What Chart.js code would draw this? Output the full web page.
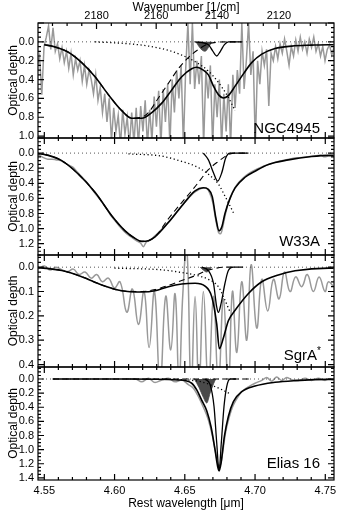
<!DOCTYPE html>
<html>
<head>
<meta charset="utf-8">
<script src="https://cdn.jsdelivr.net/npm/chart.js@4"></script>
<style>
  html, body { margin: 0; padding: 0; background: #fff; }
</style>
</head>
<body>
<canvas id="myChart" width="346" height="511"></canvas>
<script>
// axis ticks
let waveTicks = [4.55, 4.60, 4.65, 4.70, 4.75];
let waveNumberTicks = [2180, 2160, 2140, 2120];
let ngcTicks = [0, 0.2, 0.4, 0.6, 0.8, 1.0];
let w33Ticks = [0, 0.2, 0.4, 0.6, 0.8, 1.0, 1.2];
let sgrTicks = [0, 0.1, 0.2, 0.3, 0.4];
let eliasTicks = [0, 0.2, 0.4, 0.6, 0.8, 1.0, 1.2, 1.4];
let panelNames = ['NGC4945', 'W33A', 'SgrA', 'Elias 16'];

// NGC4945
let ngcObsStart = 4.5434, ngcObsStep = 0.0016;
let ngcObs = [
  0.10, 0.25, 0.15, 0.56, 0.05, -0.05, -0.17, 0.08, -0.15, 0.10,
  0.02, 0.18, 0.06, 0.22, 0.10, 0.28, 0.12, 0.35, 0.18, 0.30,
  0.20, 0.42, 0.25, 0.45, 0.30, 0.40, 0.55, 0.35, 0.62, 0.48,
  0.75, 0.55, 0.85, 0.60, 1.05, 0.70, 0.95, 0.78, 1.10, 0.72,
  0.98, 0.80, 1.10, 0.75, 1.08, 0.70, 1.10, 0.68, 0.95, 0.62,
  1.10, 0.72, 1.05, 0.58, 0.90, 0.52, 1.10, 0.50, 0.85, 0.45,
  1.10, 0.40, 0.75, 0.30, 0.60, 0.25, 1.10, 0.30, -0.20, 0.45,
  -0.20, 0.50, 0.20, 0.45, 0.15, 1.10, 0.30, 0.60, 0.25, 1.10,
  0.45, 0.80, 0.40, 1.10, 0.55, 0.95, 0.45, 1.10, 0.35, 0.70,
  0.30, 0.55, -0.20, 0.50, 0.20, -0.20, 0.35, 0.10, 1.10, 0.20,
  0.45, 0.10, 0.25, 0.08, 0.68, 0.12, 0.20, 0.05, 0.18, 0.02,
  0.12, -0.03, 0.10, 0.25, 0.05, 0.15, -0.02, 0.10, -0.05, 0.08,
  0.00, 0.12, -0.03, 0.06, -0.05, 0.10, 0.02, 0.15, 0.05, 0.20,
  0.08, 0.03, 0.14, 0.06
];
let ngcFitWave = [4.5500, 4.5577, 4.5671, 4.5766, 4.5861, 4.5956, 4.6051, 4.6122, 4.6193, 4.6265, 4.6336, 4.6407, 4.6478, 4.6549, 4.6585, 4.6632, 4.6668, 4.6704, 4.6739, 4.6775, 4.6810, 4.6858, 4.6917, 4.6976, 4.7048, 4.7142, 4.7261, 4.7403, 4.7522, 4.7560];
let ngcFitTau  = [0.03, 0.055, 0.11, 0.22, 0.37, 0.56, 0.73, 0.81, 0.81, 0.75, 0.65, 0.51, 0.37, 0.285, 0.27, 0.30, 0.35, 0.47, 0.56, 0.595, 0.57, 0.47, 0.34, 0.22, 0.13, 0.07, 0.045, 0.035, 0.03, 0.03];
let ngcBroadWave = [4.5500, 4.5577, 4.5671, 4.5766, 4.5861, 4.5956, 4.6051, 4.6122, 4.6193, 4.6241, 4.6312, 4.6383, 4.6454, 4.6526, 4.6597, 4.6668, 4.6739, 4.6810, 4.6905];
let ngcBroadTau  = [0.03, 0.055, 0.11, 0.22, 0.37, 0.56, 0.73, 0.81, 0.80, 0.75, 0.595, 0.44, 0.285, 0.165, 0.08, 0.02, 0.003, 0, 0];
let ngcWingWave = [4.5861, 4.6099, 4.6241, 4.6383, 4.6478, 4.6573, 4.6668, 4.6739, 4.6810, 4.6858];
let ngcWingTau  = [0, 0.02, 0.045, 0.09, 0.14, 0.21, 0.31, 0.43, 0.59, 0.73];
let ngcNarrowWave = [4.6573, 4.6668, 4.6696, 4.6727, 4.6753, 4.6782, 4.6810, 4.6905];
let ngcNarrowTau  = [0, 0.03, 0.09, 0.15, 0.10, 0.03, 0, 0];
let ngcShadeWave = [4.6580, 4.6601, 4.6625, 4.6644, 4.6668, 4.6692];
let ngcShadeTau  = [0, 0.05, 0.09, 0.10, 0.06, 0];

// W33A
let w33ObsWave = [4.5427, 4.5465, 4.5495, 4.5525, 4.5555, 4.5585, 4.5615, 4.5645, 4.5675, 4.5705, 4.5735, 4.5765, 4.5795, 4.5825, 4.5855, 4.5885, 4.5915, 4.5945, 4.5975, 4.6005, 4.6035, 4.6065, 4.6095, 4.6125, 4.6155, 4.6185, 4.6205, 4.6225, 4.6255, 4.6285, 4.6315, 4.6345, 4.6375, 4.6405, 4.6435, 4.6465, 4.6495, 4.6525, 4.6555, 4.6585, 4.6615, 4.6645, 4.6675, 4.6700, 4.6720, 4.6740, 4.6755, 4.6770, 4.6790, 4.6815, 4.6845, 4.6875, 4.6915, 4.6965, 4.7015, 4.7065, 4.7115, 4.7165, 4.7215, 4.7265, 4.7315, 4.7365, 4.7415, 4.7465, 4.7495, 4.7522, 4.7560];
let w33ObsTau  = [0.01, 0.03, 0.06, 0.08, 0.08, 0.09, 0.10, 0.13, 0.16, 0.19, 0.25, 0.31, 0.37, 0.44, 0.52, 0.59, 0.66, 0.74, 0.83, 0.90, 0.97, 1.03, 1.08, 1.12, 1.16, 1.19, 1.24, 1.18, 1.15, 1.10, 1.05, 0.99, 0.93, 0.87, 0.80, 0.73, 0.66, 0.60, 0.54, 0.50, 0.47, 0.46, 0.52, 0.66, 0.88, 1.05, 1.07, 0.98, 0.80, 0.63, 0.50, 0.41, 0.33, 0.26, 0.21, 0.17, 0.14, 0.11, 0.09, 0.07, 0.06, 0.05, 0.04, 0.03, 0.05, 0.04, 0.04];
let w33FitWave = [4.5427, 4.5529, 4.5624, 4.5743, 4.5861, 4.5980, 4.6075, 4.6146, 4.6193, 4.6241, 4.6288, 4.6383, 4.6478, 4.6573, 4.6632, 4.6668, 4.6696, 4.6720, 4.6744, 4.6763, 4.6786, 4.6822, 4.6858, 4.6929, 4.7000, 4.7095, 4.7237, 4.7403, 4.7522, 4.7560];
let w33FitTau  = [0, 0.03, 0.10, 0.28, 0.52, 0.83, 1.03, 1.13, 1.17, 1.16, 1.11, 0.92, 0.70, 0.50, 0.46, 0.48, 0.58, 0.85, 1.03, 0.98, 0.80, 0.60, 0.46, 0.32, 0.24, 0.15, 0.09, 0.045, 0.03, 0.03];
let w33BroadWave = [4.5427, 4.5529, 4.5624, 4.5743, 4.5861, 4.5980, 4.6075, 4.6146, 4.6193, 4.6241, 4.6288, 4.6383, 4.6478, 4.6549, 4.6621, 4.6668, 4.6739, 4.6810, 4.6858, 4.6953];
let w33BroadTau  = [0, 0.03, 0.10, 0.28, 0.52, 0.83, 1.03, 1.13, 1.17, 1.16, 1.11, 0.87, 0.655, 0.50, 0.33, 0.22, 0.11, 0.02, 0, 0];
let w33WingWave = [4.6099, 4.6336, 4.6478, 4.6573, 4.6668, 4.6739, 4.6786, 4.6822, 4.6846];
let w33WingTau  = [0.01, 0.04, 0.11, 0.17, 0.28, 0.41, 0.57, 0.70, 0.79];
let w33NarrowWave = [4.6632, 4.6668, 4.6704, 4.6734, 4.6763, 4.6791, 4.6822, 4.6953];
let w33NarrowTau  = [0, 0.09, 0.26, 0.37, 0.26, 0.065, 0, 0];

// SgrA*
let sgrObsWave = [4.5427, 4.5458, 4.5501, 4.5541, 4.5581, 4.5624, 4.5667, 4.5707, 4.5747, 4.5790, 4.5833, 4.5873, 4.5913, 4.5956, 4.5999, 4.6039, 4.6087, 4.6127, 4.6170, 4.6210, 4.6246, 4.6284, 4.6324, 4.6364, 4.6400, 4.6431, 4.6459, 4.6485, 4.6514, 4.6545, 4.6573, 4.6601, 4.6632, 4.6668, 4.6704, 4.6739, 4.6775, 4.6810, 4.6839, 4.6870, 4.6905, 4.6941, 4.6972, 4.7012, 4.7048, 4.7090, 4.7131, 4.7171, 4.7209, 4.7249, 4.7289, 4.7332, 4.7372, 4.7415, 4.7456, 4.7498, 4.7522, 4.7560];
let sgrObsTau  = [0.00, 0.005, -0.005, 0.012, 0.0, 0.01, 0.018, 0.008, 0.03, 0.02, 0.045, 0.03, 0.06, 0.045, 0.085, 0.06, 0.185, 0.09, 0.235, 0.10, 0.33, 0.10, 0.48, 0.12, 0.34, 0.11, 0.48, 0.12, -0.08, 0.50, 0.12, 0.50, 0.10, 0.50, 0.12, 0.48, 0.13, 0.50, 0.10, 0.35, 0.06, 0.30, -0.01, 0.25, 0.05, 0.18, 0.05, 0.13, 0.02, 0.10, 0.04, 0.08, 0.03, 0.10, 0.04, 0.10, 0.06, 0.08];
let sgrFitWave = [4.5427, 4.5624, 4.5766, 4.5909, 4.6051, 4.6193, 4.6288, 4.6383, 4.6478, 4.6573, 4.6644, 4.6692, 4.6727, 4.6746, 4.6775, 4.6810, 4.6858, 4.6953, 4.7048, 4.7166, 4.7285, 4.7522, 4.7560];
let sgrFitTau  = [0, 0.014, 0.039, 0.073, 0.097, 0.102, 0.097, 0.08, 0.069, 0.066, 0.078, 0.122, 0.233, 0.335, 0.29, 0.22, 0.177, 0.108, 0.06, 0.032, 0.015, 0.004, 0.004];
let sgrBroadWave = [4.5427, 4.5624, 4.5766, 4.5909, 4.6051, 4.6193, 4.6288, 4.6383, 4.6478, 4.6573, 4.6644, 4.6715, 4.6786, 4.6858];
let sgrBroadTau  = [0, 0.014, 0.039, 0.073, 0.097, 0.10, 0.092, 0.075, 0.055, 0.035, 0.017, 0.005, 0, 0];
let sgrWingWave = [4.5999, 4.6336, 4.6478, 4.6573, 4.6668, 4.6739, 4.6786, 4.6822];
let sgrWingTau  = [0.004, 0.011, 0.022, 0.032, 0.05, 0.08, 0.136, 0.184];
let sgrNarrowWave = [4.6620, 4.6668, 4.6704, 4.6727, 4.6739, 4.6758, 4.6786, 4.6810, 4.6846, 4.6915];
let sgrNarrowTau  = [0, 0.014, 0.066, 0.163, 0.186, 0.15, 0.066, 0.014, 0, 0];
let sgrShadeWave = [4.6609, 4.6632, 4.6656, 4.6675, 4.6692];
let sgrShadeTau  = [0, 0.012, 0.02, 0.01, 0];

// Elias 16
let eliasObsWave = [4.6099, 4.6146, 4.6193, 4.6241, 4.6288, 4.6336, 4.6383, 4.6431, 4.6478, 4.6526, 4.6561, 4.6597, 4.6632, 4.6668, 4.6696, 4.6720, 4.6739, 4.6753, 4.6772, 4.6791, 4.6815, 4.6839, 4.6870, 4.6905, 4.6953, 4.7000, 4.7048, 4.7083, 4.7119, 4.7154, 4.7190, 4.7225, 4.7261, 4.7309, 4.7356, 4.7403, 4.7451, 4.7498, 4.7522, 4.7560];
let eliasObsTau  = [0.0, 0.0, 0.04, -0.01, 0.05, 0.015, -0.01, 0.04, 0.015, 0.08, 0.13, 0.25, 0.40, 0.58, 0.80, 1.05, 1.22, 1.22, 1.0, 0.75, 0.55, 0.40, 0.28, 0.18, 0.11, 0.06, 0.02, -0.02, 0.03, -0.03, 0.02, -0.02, 0.01, 0.02, -0.01, 0.02, -0.01, 0.02, 0.0, 0.01];
let eliasFitWave = [4.5560, 4.6099, 4.6454, 4.6549, 4.6585, 4.6620, 4.6656, 4.6687, 4.6715, 4.6734, 4.6744, 4.6758, 4.6782, 4.6810, 4.6846, 4.6905, 4.7000, 4.7142, 4.7285, 4.7522, 4.7560];
let eliasFitTau  = [0, 0, 0.014, 0.06, 0.155, 0.30, 0.45, 0.68, 1.0, 1.24, 1.30, 1.19, 0.81, 0.53, 0.32, 0.18, 0.10, 0.047, 0.023, 0.005, 0.005];
let eliasBroadWave = [4.5560, 4.6965];
let eliasBroadTau  = [0, 0];
let eliasWingWave = [4.6336, 4.6526, 4.6620, 4.6692, 4.6763, 4.6822];
let eliasWingTau  = [0, 0.015, 0.04, 0.09, 0.15, 0.21];
let eliasNarrowWave = [4.6644, 4.6680, 4.6708, 4.6727, 4.6744, 4.6760, 4.6779, 4.6798, 4.6822, 4.6865];
let eliasNarrowTau  = [0, 0.08, 0.39, 0.90, 1.30, 0.90, 0.39, 0.11, 0, 0];
let eliasShadeWave = [4.6568, 4.6601, 4.6632, 4.6656, 4.6680, 4.6704, 4.6720];
let eliasShadeTau  = [0, 0.12, 0.26, 0.34, 0.20, 0.07, 0];

Chart.defaults.font.family = '"Liberation Sans", Arial, sans-serif';
Chart.defaults.color = '#000';

let tickFont = {size: 11};
let titleFont = {size: 12};

function pts(wave, tau) {
  return wave.map((w, i) => ({x: w, y: tau[i]}));
}

let styles = {
  fit:    {borderColor: '#000', borderWidth: 1.6, order: 0},
  narrow: {borderColor: '#000', borderWidth: 1.3, order: 1},
  broad:  {borderColor: '#000', borderWidth: 1.1, borderDash: [6, 4], order: 2},
  wing:   {borderColor: '#000', borderWidth: 1.3, borderDash: [1.2, 2.6], order: 3},
  shade:  {borderColor: '#4a4a4a', backgroundColor: '#4a4a4a', borderWidth: 0.8, fill: {value: 0}, order: 4},
  zero:   {borderColor: '#555', borderWidth: 1, borderDash: [1, 3], order: 5},
  obs:    {borderColor: '#999', borderWidth: 1.5, order: 6}
};

function ds(data, yAxisID, kind, extra) {
  return Object.assign({
    data: data, xAxisID: 'x', yAxisID: yAxisID,
    pointRadius: 0, fill: false, cubicInterpolationMode: 'monotone'
  }, styles[kind], extra || {});
}

let xMin = 4.5455, xMax = 4.7562;
let zeroLine = [{x: xMin, y: 0}, {x: xMax, y: 0}];

let datasets = [
  ds(pts(ngcFitWave, ngcFitTau), 'y1', 'fit'),
  ds(pts(ngcNarrowWave, ngcNarrowTau), 'y1', 'narrow'),
  ds(pts(ngcBroadWave, ngcBroadTau), 'y1', 'broad'),
  ds(pts(ngcWingWave, ngcWingTau), 'y1', 'wing'),
  ds(pts(ngcShadeWave, ngcShadeTau), 'y1', 'shade'),
  ds(zeroLine, 'y1', 'zero'),
  ds(ngcObs.map((t, i) => ({x: ngcObsStart + i * ngcObsStep, y: t})), 'y1', 'obs', {cubicInterpolationMode: 'default', tension: 0}),

  ds(pts(w33FitWave, w33FitTau), 'y2', 'fit'),
  ds(pts(w33NarrowWave, w33NarrowTau), 'y2', 'narrow'),
  ds(pts(w33BroadWave, w33BroadTau), 'y2', 'broad'),
  ds(pts(w33WingWave, w33WingTau), 'y2', 'wing'),
  ds(zeroLine, 'y2', 'zero'),
  ds(pts(w33ObsWave, w33ObsTau), 'y2', 'obs'),

  ds(pts(sgrFitWave, sgrFitTau), 'y3', 'fit'),
  ds(pts(sgrNarrowWave, sgrNarrowTau), 'y3', 'narrow'),
  ds(pts(sgrBroadWave, sgrBroadTau), 'y3', 'broad'),
  ds(pts(sgrWingWave, sgrWingTau), 'y3', 'wing'),
  ds(pts(sgrShadeWave, sgrShadeTau), 'y3', 'shade'),
  ds(zeroLine, 'y3', 'zero'),
  ds(pts(sgrObsWave, sgrObsTau), 'y3', 'obs', {cubicInterpolationMode: 'default', tension: 0.45}),

  ds(pts(eliasFitWave, eliasFitTau), 'y4', 'fit'),
  ds(pts(eliasNarrowWave, eliasNarrowTau), 'y4', 'narrow'),
  ds(pts(eliasBroadWave, eliasBroadTau), 'y4', 'broad'),
  ds(pts(eliasWingWave, eliasWingTau), 'y4', 'wing'),
  ds(pts(eliasShadeWave, eliasShadeTau), 'y4', 'shade'),
  ds(zeroLine, 'y4', 'zero'),
  ds(pts(eliasObsWave, eliasObsTau), 'y4', 'obs')
];

function yScale(ticks, min, max, stackWeight, weight) {
  return {
    type: 'linear', position: 'left', stack: 'tau', stackWeight: stackWeight, weight: weight,
    reverse: true, min: min, max: max,
    afterBuildTicks: s => { s.ticks = ticks.map(v => ({value: v})); },
    afterFit: s => { s.width = 38; },
    grid: {display: false, drawTicks: false},
    border: {display: false},
    ticks: {font: tickFont, padding: 4, autoSkip: false, callback: v => v.toFixed(1)},
    title: {display: true, text: 'Optical depth', font: titleFont, padding: {top: 6, bottom: 0}}
  };
}

// minor tick steps per panel (y) and major step
let panelAxes = [
  {id: 'y1', major: 0.2, minor: 0.05},
  {id: 'y2', major: 0.2, minor: 0.05},
  {id: 'y3', major: 0.1, minor: 0.02},
  {id: 'y4', major: 0.2, minor: 0.05}
];
let labelLift = [5, 9, 7, 12];

let framePlugin = {
  id: 'frame',
  beforeDatasetDraw(chart, args) {
    const ys = chart.scales[args.meta.yAxisID];
    const a = chart.chartArea;
    const ctx = chart.ctx;
    ctx.save();
    ctx.beginPath();
    ctx.rect(a.left, ys.top, a.right - a.left, ys.bottom - ys.top);
    ctx.clip();
  },
  afterDatasetDraw(chart) {
    chart.ctx.restore();
  },
  afterDraw(chart) {
    const ctx = chart.ctx, a = chart.chartArea, xs = chart.scales.x;
    ctx.save();
    ctx.strokeStyle = '#000';
    ctx.lineWidth = 1.2;
    panelAxes.forEach((p, k) => {
      const ys = chart.scales[p.id];
      ctx.strokeRect(a.left, ys.top, a.right - a.left, ys.bottom - ys.top);
      ctx.beginPath();
      const lo = Math.ceil(ys.min / p.minor - 1e-6), hi = Math.floor(ys.max / p.minor + 1e-6);
      for (let i = lo; i <= hi; i++) {
        const v = i * p.minor;
        const r = v / p.major;
        const len = Math.abs(r - Math.round(r)) < 1e-6 ? 6 : 3;
        const y = ys.getPixelForValue(v);
        ctx.moveTo(a.left, y); ctx.lineTo(a.left + len, y);
        ctx.moveTo(a.right, y); ctx.lineTo(a.right - len, y);
      }
      for (let i = 0; i <= 20; i++) {
        const x = xs.getPixelForValue(4.55 + i * 0.01);
        const len = i % 5 === 0 ? 6 : 3;
        ctx.moveTo(x, ys.bottom); ctx.lineTo(x, ys.bottom - len);
        if (k > 0) { ctx.moveTo(x, ys.top); ctx.lineTo(x, ys.top + len); }
      }
      if (k === 0) {
        for (let n = 2105; n <= 2195; n += 5) {
          const x = xs.getPixelForValue(1e4 / n);
          const len = n % 20 === 0 ? 6 : 3;
          ctx.moveTo(x, ys.top); ctx.lineTo(x, ys.top + len);
        }
      }
      ctx.stroke();

      ctx.fillStyle = '#000';
      ctx.textBaseline = 'alphabetic';
      ctx.textAlign = 'right';
      ctx.font = '15px "Liberation Sans", Arial, sans-serif';
      const base = ys.bottom - labelLift[k];
      if (k === 2) {
        ctx.fillText(panelNames[k], a.right - 17, base);
        ctx.textAlign = 'left';
        ctx.font = '10px "Liberation Sans", Arial, sans-serif';
        ctx.fillText('*', a.right - 17, base - 6);
      } else {
        ctx.fillText(panelNames[k], a.right - 14, base);
      }
    });
    ctx.restore();
  }
};

let ctx = document.getElementById('myChart').getContext('2d');
let myChart = new Chart(ctx, {
  type: 'line',
  data: {datasets: datasets},
  options: {
    responsive: false,
    animation: false,
    events: [],
    layout: {padding: {left: 0, right: 12, top: 0, bottom: 0}},
    plugins: {legend: {display: false}, tooltip: {enabled: false}},
    scales: {
      x: {
        type: 'linear', position: 'bottom', min: xMin, max: xMax,
        afterBuildTicks: s => { s.ticks = waveTicks.map(v => ({value: v})); },
        afterFit: s => { s.height = 31; },
        grid: {display: false, drawTicks: false},
        border: {display: false},
        ticks: {font: tickFont, padding: 4, autoSkip: false, maxRotation: 0, callback: v => v.toFixed(2)},
        title: {display: true, text: 'Rest wavelength [μm]', font: titleFont, padding: {top: 0, bottom: 0}}
      },
      x2: {
        type: 'linear', position: 'top', min: xMin, max: xMax,
        afterBuildTicks: s => { s.ticks = waveNumberTicks.map(n => ({value: 1e4 / n})); },
        afterFit: s => { s.height = 23; },
        grid: {display: false, drawTicks: false},
        border: {display: false},
        ticks: {font: tickFont, padding: 0, autoSkip: false, maxRotation: 0, callback: v => String(Math.round(1e4 / v))},
        title: {display: true, text: 'Wavenumber [1/cm]', font: titleFont, padding: {top: 0, bottom: 0}}
      },
      y1: yScale(ngcTicks, -0.2, 1.02, 115, 4),
      y2: yScale(w33Ticks, -0.2, 1.35, 117, 3),
      y3: yScale(sgrTicks, -0.05, 0.41, 112, 2),
      y4: yScale(eliasTicks, -0.17, 1.43, 113, 1)
    }
  },
  plugins: [framePlugin]
});
</script>
</body>
</html>
